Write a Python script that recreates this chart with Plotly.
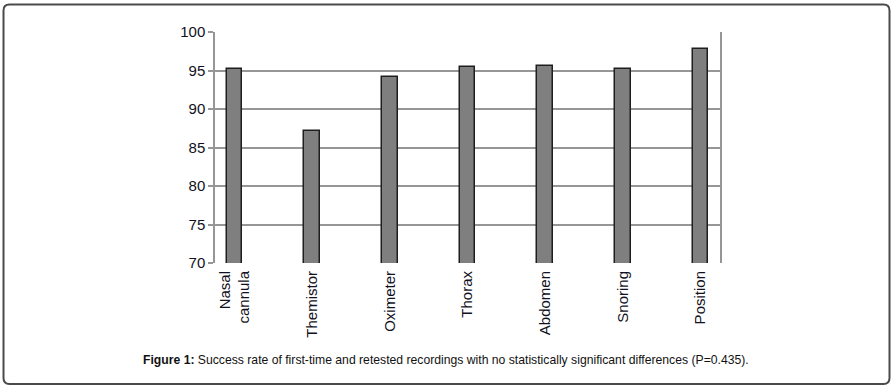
import plotly.graph_objects as go

categories = ["Nasal<br>cannula", "Themistor", "Oximeter", "Thorax", "Abdomen", "Snoring", "Position"]
values = [95.15, 87.2, 94.1, 95.4, 95.6, 95.2, 97.75]
y_ticks = [70, 75, 80, 85, 90, 95, 100]

W, H = 894, 390
L, R, T, B = 215, 720, 32, 263

fig = go.Figure(go.Bar(
    x=list(range(len(categories))), y=values, width=0.2,
    marker=dict(color="#7f7f7f", line=dict(color="#1e1e1e", width=1.5)),
    hoverinfo="skip",
))

def px(x):
    return (x - L) / (R - L)

def py(y):
    return (B - y) / (B - T)

# rounded outer frame
x0, x1, y0, y1, r = 3.5, 889.5, 4.5, 384, 6
path = (f"M {px(x0+r)} {py(y0)} L {px(x1-r)} {py(y0)} Q {px(x1)} {py(y0)} {px(x1)} {py(y0+r)} "
        f"L {px(x1)} {py(y1-r)} Q {px(x1)} {py(y1)} {px(x1-r)} {py(y1)} "
        f"L {px(x0+r)} {py(y1)} Q {px(x0)} {py(y1)} {px(x0)} {py(y1-r)} "
        f"L {px(x0)} {py(y0+r)} Q {px(x0)} {py(y0)} {px(x0+r)} {py(y0)} Z")
fig.add_shape(type="path", path=path, xref="paper", yref="paper",
              line=dict(color="#4a4a4a", width=2))

fig.add_annotation(
    text="<b>Figure 1:</b> Success rate of first-time and retested recordings with no statistically significant differences (P=0.435).",
    xref="paper", yref="paper", x=px(446), y=py(360), showarrow=False,
    font=dict(family="Arial, Liberation Sans, sans-serif", size=12.2, color="#111111"),
    xanchor="center", yanchor="middle",
)

fig.update_layout(
    width=W, height=H,
    margin=dict(l=L, r=W - R, t=T, b=H - B),
    paper_bgcolor="white", plot_bgcolor="white",
    showlegend=False,
    font=dict(family="Arial, Liberation Sans, sans-serif", size=15, color="#111122"),
    bargap=0,
)
fig.update_xaxes(
    range=[-0.25, 6.25], tickmode="array", tickvals=list(range(len(categories))),
    ticktext=categories, tickangle=-90, showgrid=False, zeroline=False,
    showline=False, ticks="", ticklabelstandoff=4,
)
fig.update_yaxes(
    range=[70, 100], tickmode="array", tickvals=y_ticks, ticktext=[str(v) for v in y_ticks],
    showgrid=True, gridcolor="#969696", gridwidth=1.5, zeroline=False,
    showline=True, linecolor="#969696", linewidth=1.5, mirror=True,
    ticks="outside", ticklen=5, tickcolor="#969696", tickwidth=1.5,
)

fig.write_html("out.html", config={"displayModeBar": False},
               post_script="document.body.style.margin='0';")
